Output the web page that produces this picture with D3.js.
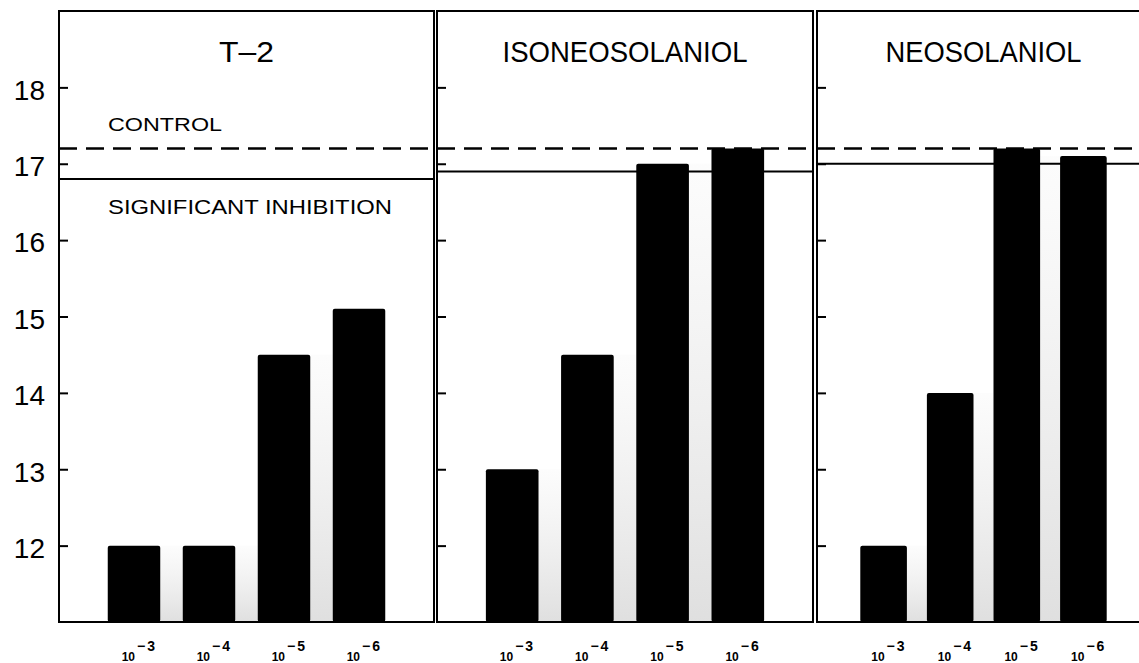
<!DOCTYPE html>
<meta charset="utf-8">
<script src="https://d3js.org/d3.v7.min.js"></script>
<style>
  body { margin: 0; background: #fff; }
  text { font-family: "Liberation Sans", Arial, sans-serif; fill: #000; }
</style>
<div id="chart"></div>
<script>
// data
var panelNames = ["T\u20132", "ISONEOSOLANIOL", "NEOSOLANIOL"];
var exponents = ["\u22123", "\u22124", "\u22125", "\u22126"];
var t2Values = [12, 12, 14.5, 15.1];
var isoValues = [13, 14.5, 17.0, 17.2];
var neoValues = [12, 14.0, 17.2, 17.1];
var controlValue = 17.2;
var inhibitionValues = [16.8, 16.9, 17.0];
var yTicks = [12, 13, 14, 15, 16, 17, 18];
var seriesValues = [t2Values, isoValues, neoValues];

// layout
var W = 1139, H = 663;
var plot = {top: 11, bottom: 622};
var panelLeft = [59, 437, 817];
var panelRight = [434, 813, 1150];
var titleWidths = [55, 245, 196];

var svg = d3.select("#chart").append("svg")
    .attr("width", W)
    .attr("height", H);

// faint grey smear between the bars (scan shading)
var grad = svg.append("defs").append("linearGradient")
    .attr("id", "shade")
    .attr("x1", 0).attr("y1", 0).attr("x2", 0).attr("y2", 1);
grad.append("stop").attr("offset", "0%").attr("stop-color", "#c8c8c8").attr("stop-opacity", 0.05);
grad.append("stop").attr("offset", "100%").attr("stop-color", "#b0b0b0").attr("stop-opacity", 0.4);

var y = d3.scaleLinear()
    .domain([11, 19])
    .range([plot.bottom, plot.top]);

panelNames.forEach(function(name, i) {
  var w = panelRight[i] - panelLeft[i];
  var values = seriesValues[i];
  var g = svg.append("g")
      .attr("transform", "translate(" + panelLeft[i] + ",0)");

  var x = d3.scaleBand()
      .domain(exponents)
      .range([0, w])
      .paddingInner(0.3)
      .paddingOuter(0.65);
  var bw = x.bandwidth();

  // shading in the gaps
  g.selectAll(".gap")
    .data(d3.range(values.length - 1))
    .enter()
    .append("rect")
      .attr("x", function(j) { return x(exponents[j]) + bw; })
      .attr("width", x.step() - bw)
      .attr("y", function(j) { return y(Math.min(values[j], values[j + 1])); })
      .attr("height", function(j) { return plot.bottom - y(Math.min(values[j], values[j + 1])); })
      .attr("fill", "url(#shade)");

  // bars
  g.selectAll(".bar")
    .data(values)
    .enter()
    .append("rect")
      .attr("x", function(d, j) { return x(exponents[j]); })
      .attr("y", function(d) { return y(d); })
      .attr("width", bw)
      .attr("height", function(d) { return plot.bottom - y(d); })
      .attr("rx", 2)
      .attr("fill", "#000");

  // control (dashed) and significant inhibition (solid) lines
  g.append("line")
      .attr("x1", 0).attr("x2", w)
      .attr("y1", y(controlValue)).attr("y2", y(controlValue))
      .attr("stroke", "#000")
      .attr("stroke-width", 2.6)
      .attr("stroke-dasharray", "18,9");
  g.append("line")
      .attr("x1", 0).attr("x2", w)
      .attr("y1", y(inhibitionValues[i])).attr("y2", y(inhibitionValues[i]))
      .attr("stroke", "#000")
      .attr("stroke-width", 2);

  // y axis, ticks inside
  var axis = g.append("g")
      .call(d3.axisLeft(y)
        .tickValues(yTicks)
        .tickSize(-9)
        .tickPadding(14)
        .tickFormat(i === 0 ? d3.format("d") : function() { return ""; }));
  axis.select(".domain").remove();
  axis.selectAll("line").attr("stroke-width", 2);
  axis.selectAll("text")
      .attr("font-family", "Liberation Sans, Arial, sans-serif")
      .attr("font-size", 28)
      .attr("dy", "0.42em");

  // frame
  g.append("rect")
      .attr("x", 0).attr("y", plot.top)
      .attr("width", w).attr("height", plot.bottom - plot.top)
      .attr("fill", "none")
      .attr("stroke", "#000")
      .attr("stroke-width", 2);

  // title
  g.append("text")
      .attr("x", w / 2)
      .attr("y", 62)
      .attr("text-anchor", "middle")
      .attr("font-size", 29)
      .attr("textLength", titleWidths[i])
      .attr("lengthAdjust", "spacingAndGlyphs")
      .text(name);

  // x labels: 10 with exponent
  exponents.forEach(function(e) {
    var cx = x(e) + bw / 2;
    g.append("text")
        .attr("x", cx + 1)
        .attr("y", 661)
        .attr("text-anchor", "end")
        .attr("font-size", 12)
        .attr("font-weight", "bold")
        .text("10");
    g.append("text")
        .attr("x", cx + 3)
        .attr("y", 651)
        .attr("font-size", 14)
        .attr("font-weight", "bold")
        .attr("letter-spacing", 2)
        .text(e);
  });

  if (i === 0) {
    g.append("text")
        .attr("x", 49)
        .attr("y", 131)
        .attr("font-size", 19)
        .attr("textLength", 114)
        .attr("lengthAdjust", "spacingAndGlyphs")
        .text("CONTROL");
    g.append("text")
        .attr("x", 49)
        .attr("y", 214)
        .attr("font-size", 21)
        .attr("textLength", 284)
        .attr("lengthAdjust", "spacingAndGlyphs")
        .text("SIGNIFICANT INHIBITION");
  }
});
</script>
